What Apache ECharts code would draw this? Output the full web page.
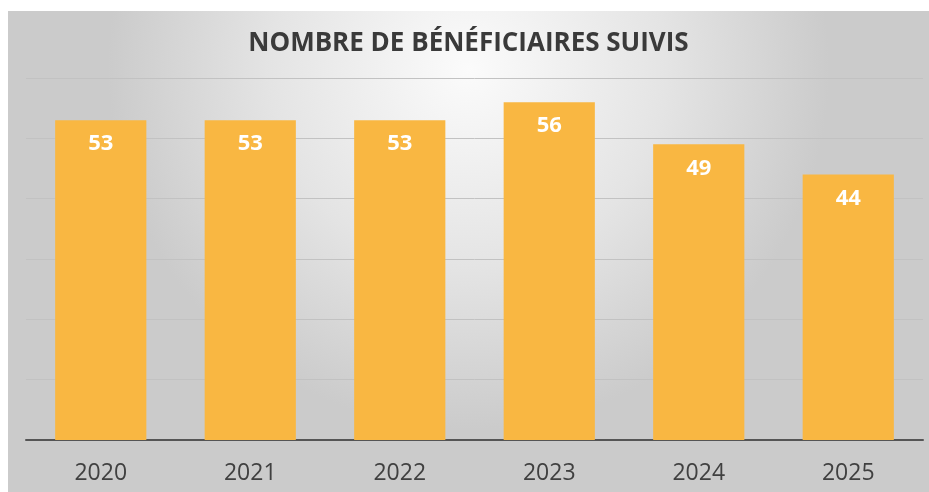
<!DOCTYPE html>
<html>
<head>
<meta charset="utf-8">
<script src="https://cdn.jsdelivr.net/npm/echarts@6/dist/echarts.min.js"></script>
<style>
  html, body { margin: 0; padding: 0; background: #fff; }
  #main { position: absolute; left: 8px; top: 11px; width: 921px; height: 481px; }
</style>
</head>
<body>
<div id="main"></div>
<script>
// Nombre de bénéficiaires suivis par année
var annees = ['2020', '2021', '2022', '2023', '2024', '2025'];
var beneficiaires = [53, 53, 53, 56, 49, 44];

var myChart = echarts.init(document.getElementById('main'));

var option = {
  backgroundColor: {
    type: 'radial', x: 0.5, y: 0.12, r: 0.75,
    colorStops: [
      { offset: 0, color: '#fbfbfb' },
      { offset: 0.55, color: '#e4e4e4' },
      { offset: 1, color: '#cbcbcb' }
    ]
  },
  title: {
    text: 'NOMBRE DE BÉNÉFICIAIRES SUIVIS',
    left: 'center',
    top: 15,
    textStyle: {
      fontFamily: 'Open Sans',
      fontWeight: 'bold',
      fontSize: 26,
      color: '#3a3a3a'
    }
  },
  grid: { left: 18, right: 6, top: 67, bottom: 52 },
  xAxis: {
    type: 'category',
    data: annees,
    axisTick: { show: false },
    axisLine: { lineStyle: { color: '#555', width: 2 } },
    axisLabel: {
      fontFamily: 'Open Sans',
      fontSize: 23,
      color: '#404040',
      margin: 22
    }
  },
  yAxis: {
    type: 'value',
    min: 0,
    max: 60,
    interval: 10,
    axisLabel: { show: false },
    axisLine: { show: false },
    axisTick: { show: false },
    splitLine: { lineStyle: { color: '#c2c2c2', width: 1 } }
  },
  series: [{
    type: 'bar',
    data: beneficiaires,
    barWidth: '61%',
    itemStyle: { color: '#f9b742' },
    label: {
      show: true,
      position: 'insideTop',
      distance: 13,
      fontFamily: 'Open Sans',
      fontWeight: 'bold',
      fontSize: 22,
      color: '#fff'
    }
  }]
};

option && myChart.setOption(option);
</script>
</body>
</html>
